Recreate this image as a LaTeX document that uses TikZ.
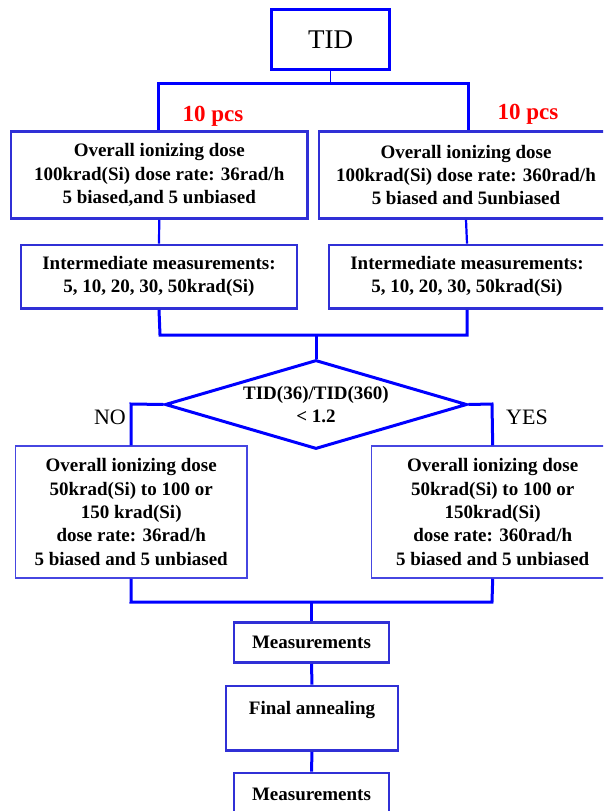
\documentclass[tikz,border=0pt]{standalone}
\usepackage{fontspec}
\setmainfont{Liberation Serif}
\usetikzlibrary{shapes.geometric}
\definecolor{linkblue}{RGB}{0,0,255}
\definecolor{boxblue}{RGB}{48,48,214}
\definecolor{thinblue}{RGB}{70,70,225}
\definecolor{pcsred}{RGB}{255,0,0}
\tikzset{
  bodyfont/.style={font=\fontsize{19}{23.3}\selectfont\bfseries},
  stepbox/.style={draw=boxblue, line width=2.6pt, fill=white, inner sep=0pt, align=center, bodyfont},
  thinbox/.style={draw=thinblue, line width=1.5pt, fill=white, inner sep=0pt, align=center, bodyfont},
  link/.style={draw=linkblue, line width=3pt},
  thinlink/.style={draw=linkblue, line width=1.6pt},
  pcs/.style={text=pcsred, font=\fontsize{23}{26}\selectfont\bfseries, inner sep=0pt},
  branch/.style={font=\fontsize{22}{24}\selectfont, inner sep=0pt}
}
\begin{document}
\begin{tikzpicture}[x=1pt, y=-1pt]
\useasboundingbox (0,0) rectangle (603,811);
\clip (0,0) rectangle (603,811);
\fill[white] (0,0) rectangle (603,811);

% nodes
\node[draw=linkblue, line width=3pt, fill=white, minimum width=117.6pt, minimum height=59.7pt, inner sep=0pt,
      font=\fontsize{27}{30}\selectfont] (tid) at (330.5,39.2) {TID};

\node[stepbox, minimum width=296.9pt, minimum height=86.8pt] (l1) at (159.25,175.1)
  {Overall ionizing dose\\100krad(Si) dose rate: 36rad/h\\5 biased,and 5 unbiased};
\node[stepbox, minimum width=294pt, minimum height=86.8pt] (r1) at (466,175.1)
  {Overall ionizing dose\\100krad(Si) dose rate: 360rad/h\\5 biased and 5unbiased};

\node[pcs] (pl) at (213,116) {10 pcs};
\node[pcs] (pr) at (528,114.5) {10 pcs};

\node[stepbox, minimum width=276pt, minimum height=63.5pt] (l2) at (159,276.75)
  {Intermediate measurements:\\5, 10, 20, 30, 50krad(Si)};
\node[stepbox, minimum width=276pt, minimum height=63.5pt] (r2) at (467,276.75)
  {Intermediate measurements:\\5, 10, 20, 30, 50krad(Si)};

\node[diamond, draw=linkblue, line width=3pt, fill=white, minimum width=302pt, minimum height=89pt,
      inner sep=0pt, aspect=3.4, align=center, bodyfont] (dia) at (316,404.5)
  {TID(36)/TID(360)\\\textless{} 1.2};

\node[branch] (no) at (110,417) {NO};
\node[branch] (yes) at (527,417) {YES};

\node[thinbox, minimum width=231.6pt, minimum height=132pt] (l3) at (131.2,512)
  {Overall ionizing dose\\50krad(Si) to 100 or\\150 krad(Si)\\dose rate: 36rad/h\\5 biased and 5 unbiased};
\node[thinbox, minimum width=242.5pt, minimum height=132pt] (r3) at (492.7,512)
  {Overall ionizing dose\\50krad(Si) to 100 or\\150krad(Si)\\dose rate: 360rad/h\\5 biased and 5 unbiased};

\node[stepbox, minimum width=155pt, minimum height=40pt] (m1) at (311.5,642.7) {Measurements};
\node[stepbox, minimum width=172pt, minimum height=64.5pt, text height=12pt, text depth=20pt] (fa) at (312,718.25) {Final annealing};
\node[stepbox, minimum width=155pt, minimum height=42pt] (m2) at (311.5,794) {Measurements};

% junction coordinates
\coordinate (tj) at (tid.south |- 0,83.5);
\coordinate (tl) at (158,83.5);
\coordinate (tr) at (468,83.5);
\coordinate (jl) at (160,335);
\coordinate (jr) at (467,335);
\coordinate (jc) at (316,335);
\coordinate (nol) at (131,404);
\coordinate (yesr) at (492,404);
\coordinate (bl) at (131,602);
\coordinate (br) at (492,602);
\coordinate (bc) at (311.5,602);

% connectors
\draw[thinlink] (tid.south) -- (tj);
\draw[link] (tl |- l1.north) -- (tl) -- (tr) -- (tr |- r1.north);
\draw[link, line width=2.2pt] (l1.south) -- (l2.north);
\draw[link, line width=2.2pt] (r1.south) -- (r2.north);
\draw[link] (l2.south) -- (jl) -- (jr) -- (r2.south);
\draw[link] (jc) -- (dia.north);
\draw[link] (dia.west) -- (nol) -- (l3.north);
\draw[link] (dia.east) -- (yesr) -- (r3.north);
\draw[link] (l3.south) -- (bl) -- (br) -- (r3.south);
\draw[link] (bc) -- (m1.north);
\draw[link] (m1.south) -- (fa.north);
\draw[link] (fa.south) -- (m2.north);
\end{tikzpicture}
\end{document}
